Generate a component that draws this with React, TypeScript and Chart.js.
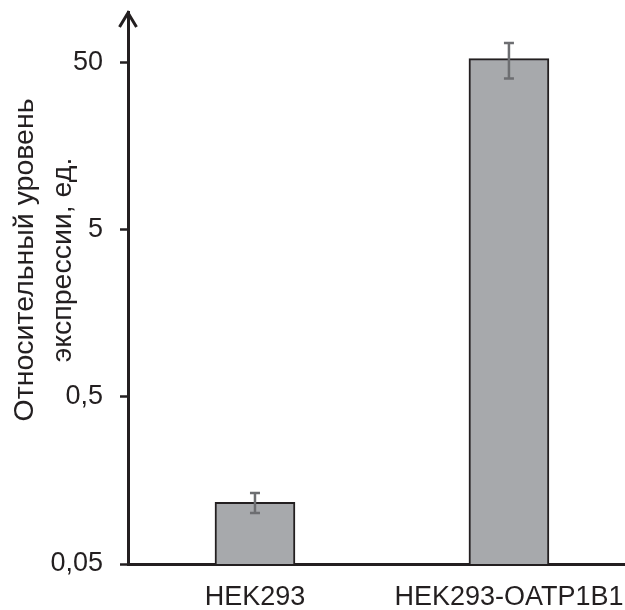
import React, { useEffect, useRef } from "react";
import { Chart, registerables } from "chart.js";

Chart.register(...registerables);

const categories = ["HEK293", "HEK293-OATP1B1"];
const values = [0.117, 52.6];
const errors = [0.016, 12.6];
const yTickValues = [0.05, 0.5, 5, 50];
const yTickLabels = ["0,05", "0,5", "5", "50"];
const yTitle = ["Относительный уровень", "экспрессии, ед."];

const FONT = "'Liberation Sans', Arial, sans-serif";
const INK = "#231f20";

const errorBarPlugin = {
  id: "errorBars",
  afterDatasetsDraw(chart: any) {
    const meta = chart.getDatasetMeta(0);
    const y = chart.scales.y;
    const ctx = chart.ctx;
    ctx.save();
    ctx.strokeStyle = "#6d6e71";
    ctx.lineWidth = 2.5;
    meta.data.forEach((bar: any, i: number) => {
      const x = bar.x;
      const top = y.getPixelForValue(values[i] + errors[i]);
      const bot = y.getPixelForValue(values[i] - errors[i]);
      ctx.beginPath();
      ctx.moveTo(x, top);
      ctx.lineTo(x, bot);
      ctx.moveTo(x - 5, top);
      ctx.lineTo(x + 5, top);
      ctx.moveTo(x - 5, bot);
      ctx.lineTo(x + 5, bot);
      ctx.stroke();
    });
    ctx.restore();
  },
};

const decorPlugin = {
  id: "decor",
  afterDraw(chart: any) {
    const ctx = chart.ctx;
    const area = chart.chartArea;
    const x = area.left;
    const top = area.top;
    ctx.save();
    ctx.strokeStyle = INK;
    ctx.lineWidth = 3;
    ctx.lineCap = "butt";
    ctx.lineJoin = "miter";
    ctx.beginPath();
    ctx.moveTo(x - 8.5, top + 15);
    ctx.lineTo(x, top + 1);
    ctx.lineTo(x + 8.5, top + 15);
    ctx.stroke();
    // axis title
    ctx.fillStyle = INK;
    ctx.font = `28.5px ${FONT}`;
    ctx.textAlign = "center";
    ctx.textBaseline = "middle";
    ctx.translate(25, 260);
    ctx.rotate(-Math.PI / 2);
    yTitle.forEach((line, i) => {
      ctx.fillText(line, 0, i * 38);
    });
    ctx.restore();
  },
};

export default function App() {
  const ref = useRef<HTMLCanvasElement>(null);
  useEffect(() => {
    if (!ref.current) return;
    const chart = new Chart(ref.current, {
      type: "bar",
      data: {
        datasets: [
          {
            data: values.map((v, i) => ({ x: i, y: v })),
            backgroundColor: "#a7a9ac",
            borderColor: INK,
            borderWidth: 2,
            barThickness: 80,
          },
        ],
      },
      plugins: [errorBarPlugin, decorPlugin],
      options: {
        animation: false,
        responsive: false,
        layout: { padding: { top: 12, left: 0, right: 0, bottom: 0 } },
        plugins: { legend: { display: false }, tooltip: { enabled: false } },
        scales: {
          x: {
            type: "linear",
            offset: false,
            min: -0.5,
            max: 1.457,
            afterBuildTicks: (s: any) => {
              s.ticks = categories.map((_, i) => ({ value: i }));
            },
            afterFit: (s: any) => {
              s.height = 46;
              s.paddingLeft = 0;
              s.paddingRight = 0;
            },
            ticks: {
              autoSkip: false,
              maxRotation: 0,
              padding: 17,
              color: INK,
              font: { family: FONT, size: 27 },
              callback: (v: any) => categories[v] ?? "",
            },
            grid: { display: false, drawTicks: false },
            border: { display: true, color: INK, width: 3 },
          },
          y: {
            type: "logarithmic",
            min: 0.05,
            max: 100,
            afterBuildTicks: (s: any) => {
              s.ticks = yTickValues.map((v) => ({ value: v }));
            },
            afterFit: (s: any) => {
              s.width = 128;
              s.paddingTop = 0;
              s.paddingBottom = 0;
            },
            ticks: {
              autoSkip: false,
              padding: 17,
              color: INK,
              font: { family: FONT, size: 27 },
              callback: (v: any) => {
                const idx = yTickValues.indexOf(v);
                return idx >= 0 ? yTickLabels[idx] : "";
              },
            },
            grid: {
              display: true,
              drawOnChartArea: false,
              drawTicks: true,
              tickLength: 8,
              tickWidth: 2.5,
              tickColor: INK,
            },
            border: { display: true, color: INK, width: 3 },
          },
        },
      },
    } as any);
    return () => chart.destroy();
  }, []);
  return (
    <div style={{ position: "fixed", left: 0, top: 0, width: 625, height: 610 }}>
      <canvas ref={ref} width={625} height={610} />
    </div>
  );
}
